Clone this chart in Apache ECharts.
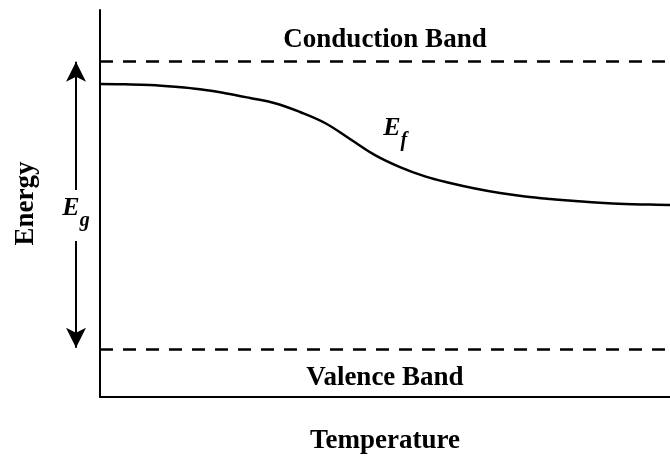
<!DOCTYPE html>
<html><head><meta charset="utf-8">
<script src="https://cdn.jsdelivr.net/npm/echarts@6/dist/echarts.min.js"></script>
<style>html,body{margin:0;padding:0;background:#fff}#c{width:670px;height:457px}</style>
</head><body><div id="c"></div><script>
// Data (normalised units: temperature 0-100, energy 0-100)
const temperature = [0, 4.39, 8.77, 13.16, 17.54, 21.93, 26.32, 30.70, 35.09, 39.47, 43.86, 48.25, 52.63, 57.02, 61.40, 65.79, 70.18, 74.56, 78.95, 83.33, 87.72, 92.11, 96.49, 100];
const fermiLevel = [80.88, 80.80, 80.62, 80.16, 79.51, 78.50, 77.26, 75.90, 73.64, 70.80, 66.67, 62.50, 59.40, 57.00, 55.30, 53.88, 52.71, 51.81, 51.16, 50.65, 50.18, 49.87, 49.72, 49.61];
const conductionBand = 86.8;
const valenceBand = 12.3;
const bandLabels = ['Conduction Band', 'Valence Band'];
const axisNames = ['Temperature', 'Energy'];
// Band-gap arrow annotation (drawn in a side panel left of the axis)
const gapArrowX = 0.5;
const gapArrowTop = 86.6, gapArrowBottom = 12.7;
const gapLabelTop = 53.5, gapLabelBottom = 40.3, gapLabelY = 47.5;
const fermiLabelPos = [51.8, 68.2];

const serif = '"Liberation Serif","Times New Roman",serif';
const chart = echarts.init(document.getElementById('c'));
const axisLine = { show: true, lineStyle: { color: '#000', width: 2 } };
const richSub = {
  e: { fontFamily: serif, fontStyle: 'italic', fontWeight: 'bold', fontSize: 26, color: '#000', verticalAlign: 'top', lineHeight: 36 },
  s: { fontFamily: serif, fontStyle: 'italic', fontWeight: 'bold', fontSize: 20, color: '#000', verticalAlign: 'bottom', lineHeight: 36 }
};
const arrowLine = { color: '#000', width: 2, type: 'solid' };
const nameStyle = { fontFamily: serif, fontWeight: 'bold', fontSize: 27, color: '#000' };
const hiddenAxis = { show: false, type: 'value', min: 0, max: 1 };
chart.setOption({
  animation: false,
  backgroundColor: '#fff',
  grid: [
    { left: 100, right: 0, top: 10, bottom: 60, containLabel: false, outerBoundsMode: 'none' },
    { left: 56, width: 40, top: 10, bottom: 60, containLabel: false, outerBoundsMode: 'none', show: false }
  ],
  xAxis: [{
    type: 'value', min: 0, max: 100, gridIndex: 0,
    name: axisNames[0], nameLocation: 'middle', nameGap: 31,
    nameTextStyle: nameStyle,
    axisLine: axisLine, axisTick: { show: false }, axisLabel: { show: false }, splitLine: { show: false }
  }, Object.assign({ gridIndex: 1 }, hiddenAxis)],
  yAxis: [{
    type: 'value', min: 0, max: 100, gridIndex: 0,
    name: axisNames[1], nameLocation: 'middle', nameGap: 60, nameRotate: 90,
    nameTextStyle: nameStyle,
    axisLine: axisLine, axisTick: { show: false }, axisLabel: { show: false }, splitLine: { show: false }
  }, { show: false, type: 'value', min: 0, max: 100, gridIndex: 1 }],
  series: [
    {
      type: 'line', smooth: 0.4, showSymbol: false, symbol: 'none',
      data: temperature.map((t, i) => [t, fermiLevel[i]]),
      lineStyle: { color: '#000', width: 2.5 },
      markLine: {
        silent: true, symbol: ['none', 'none'],
        lineStyle: { color: '#000', width: 2.5, type: [13, 10] },
        data: [
          { yAxis: conductionBand, label: { show: true, formatter: bandLabels[0], position: 'insideMiddleTop', distance: 8, fontFamily: serif, fontWeight: 'bold', fontSize: 27, color: '#000' } },
          { yAxis: valenceBand, label: { show: true, formatter: bandLabels[1], position: 'insideMiddleBottom', distance: 15, fontFamily: serif, fontWeight: 'bold', fontSize: 27, color: '#000' } }
        ]
      },
      markPoint: {
        symbol: 'rect', symbolSize: 1, silent: true,
        itemStyle: { color: 'rgba(0,0,0,0)' },
        data: [
          { coord: fermiLabelPos, label: { show: true, position: 'inside', formatter: '{e|E}{s|f}', rich: richSub } }
        ]
      }
    },
    {
      type: 'line', xAxisIndex: 1, yAxisIndex: 1, symbol: 'none', showSymbol: false,
      lineStyle: { width: 0 },
      data: [[gapArrowX, gapLabelY]],
      markLine: {
        silent: true, symbol: ['none', 'arrow'], symbolSize: [15, 20],
        lineStyle: arrowLine,
        label: { show: false },
        data: [
          [{ coord: [gapArrowX, gapLabelTop] }, { coord: [gapArrowX, gapArrowTop] }],
          [{ coord: [gapArrowX, gapLabelBottom] }, { coord: [gapArrowX, gapArrowBottom] }]
        ]
      },
      markPoint: {
        symbol: 'rect', symbolSize: 1, silent: true,
        itemStyle: { color: 'rgba(0,0,0,0)' },
        data: [
          { coord: [gapArrowX, gapLabelY], label: { show: true, position: 'inside', formatter: '{e|E}{s|g}', rich: richSub } }
        ]
      }
    }
  ]
});
</script></body></html>
